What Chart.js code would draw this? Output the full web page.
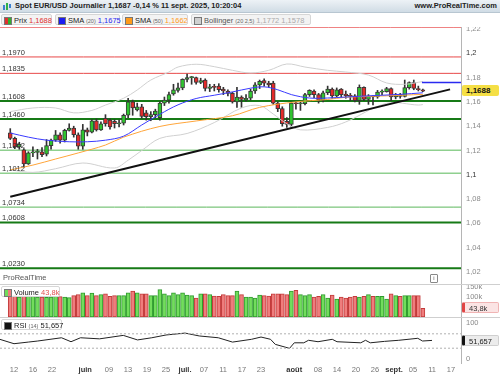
<!DOCTYPE html>
<html lang="fr">
<head>
<meta charset="UTF-8">
<title>Spot EUR/USD Journalier</title>
<script src="https://cdn.jsdelivr.net/npm/chart.js@4.4.0/dist/chart.umd.min.js"></script>
<style>
  body { margin:0; width:500px; height:375px; position:relative; overflow:hidden; background:#fff;
         font-family:"Liberation Sans", Arial, sans-serif; color:#222; }
  .abs { position:absolute; }
  #titlebar { left:0; top:0; width:500px; height:12px; background:linear-gradient(#edf2f6,#d0dce5);
              border-bottom:1px solid #b8c6d1; }
  #ttl { position:absolute; left:15px; top:1px; font-size:7.5px; font-weight:bold; white-space:nowrap; }
  #site { position:absolute; right:3px; top:1px; font-size:7.5px; font-weight:bold; }
  .ico { position:absolute; top:2px; width:2px; background:#3a7fd0; }
  .leg { position:absolute; top:14px; height:11px; background:#f3f3f3; border:1px solid #d6d6d6;
         border-radius:2px; font-size:7.5px; line-height:11px; white-space:nowrap; padding-left:12px; box-sizing:border-box; }
  .leg i { position:absolute; left:2px; top:2px; width:6px; height:6px; border:0.5px solid #777; }
  .leg small { font-size:5.5px; color:#666; }
  .tag { position:absolute; left:462px; width:37px; height:11px; font-size:7.5px; line-height:11px;
         box-sizing:border-box; padding-left:4px; border-radius:2px; }
  .pane { position:absolute; left:0; width:500px; }
  canvas { display:block; }
</style>
</head>
<body>
<div id="titlebar" class="abs">
  <span class="ico" style="left:3px;height:5px;top:5px"></span>
  <span class="ico" style="left:6px;height:7px;top:3px;background:#2fb04a"></span>
  <span class="ico" style="left:9px;height:4px;top:4px"></span>
  <span id="ttl">Spot EUR/USD Journalier 1,1687 -0,14 % 11 sept. 2025, 10:20:04</span>
  <span id="site">www.ProRealTime.com</span>
</div>

<div class="leg" style="left:1px;width:51px"><i style="background:linear-gradient(90deg,#e03030 50%,#2fb02f 50%)"></i>Prix <span style="color:#e03030">1,1688</span></div>
<div class="leg" style="left:55px;width:65px"><i style="background:#1c1cf0"></i>SMA <small>(20)</small> <span style="color:#2a2af0">1,1675</span></div>
<div class="leg" style="left:122px;width:66px"><i style="background:#ff9a1a"></i>SMA <small>(50)</small> <span style="color:#ff9a1a">1,1662</span></div>
<div class="leg" style="left:191px;width:120px;color:#555"><i style="background:#d0d0d0"></i>Bollinger <small>(20 2,5)</small> <span style="color:#aaa">1,1772 1,1578</span></div>

<div class="pane" style="top:27px;height:257px"><canvas id="price" width="500" height="257"></canvas></div>
<div class="abs" style="left:3px;top:273px;font-size:7.5px;color:#555">ProRealTime</div>
<div class="abs" style="left:430px;top:274px;width:6px;height:7px;border:1px solid #888;border-radius:1px;font-size:6px;line-height:7px;text-align:center;color:#555">i</div>
<div class="tag" style="top:85px;background:#f5df45;font-weight:bold;color:#111;font-size:8px">1,1688</div>

<div class="pane" style="top:284px;height:32px;border-top:1px solid #cfcfcf"><canvas id="vol" width="500" height="32"></canvas></div>
<div class="leg" style="top:286px;left:1px;width:59px;background:rgba(255,255,255,0.9)"><i style="background:linear-gradient(90deg,#6fdc5a 50%,#ef7b7b 50%)"></i>Volume <span style="color:#e05050">43,8k</span></div>
<div class="tag" style="top:302px;background:#fbe4e4;border:1px solid #f0b4b4;border-left:3px solid #e04545;color:#333">43,8k</div>

<div class="pane" style="top:317px;height:58px;border-top:1px solid #cfcfcf"><canvas id="rsi" width="500" height="58"></canvas></div>
<div class="leg" style="top:319px;left:1px;width:61px;background:rgba(255,255,255,0.9)"><i style="background:#111"></i>RSI <small>(14)</small> 51,657</div>
<div class="tag" style="top:335px;background:#ececec;border:1px solid #cfcfcf;border-left:3px solid #111;color:#222">51,657</div>

<script>
// trading days (dd/mm), 7 May -> 19 Sep 2025
const days = [
  '07/05','08/05','09/05','12/05','13/05','14/05','15/05','16/05','19/05','20/05','21/05','22/05','23/05',
  '26/05','27/05','28/05','29/05','30/05','02/06','03/06','04/06','05/06','06/06','09/06','10/06','11/06',
  '12/06','13/06','16/06','17/06','18/06','19/06','20/06','23/06','24/06','25/06','26/06','27/06','30/06',
  '01/07','02/07','03/07','04/07','07/07','08/07','09/07','10/07','11/07','14/07','15/07','16/07','17/07',
  '18/07','21/07','22/07','23/07','24/07','25/07','28/07','29/07','30/07','31/07','01/08','04/08','05/08',
  '06/08','07/08','08/08','11/08','12/08','13/08','14/08','15/08','18/08','19/08','20/08','21/08','22/08',
  '25/08','26/08','27/08','28/08','29/08','01/09','02/09','03/09','04/09','05/09','08/09','09/09','10/09',
  '11/09','12/09','15/09','16/09','17/09','18/09','19/09'
];
const tickDays = ['12/05','16/05','22/05','02/06','09/06','13/06','19/06','25/06','01/07','07/07','11/07',
  '17/07','23/07','01/08','08/08','14/08','20/08','26/08','01/09','05/09','11/09','17/09'];
const tickLabels = ['12','16','22','juin','09','13','19','25','juil.','07','11','17','23','août','08','14',
  '20','26','sept.','05','11','17'];
const monthLabels = ['juin','juil.','août','sept.'];

// daily candles, 07/05 -> 11/09
const open = [
  1.1345,1.1300,1.1230,1.1205,1.1090,1.1180,1.1185,1.1190,1.1170,1.1240,1.1285,1.1330,1.1285,
  1.1365,1.1385,1.1330,1.1235,1.1370,1.1350,1.1445,1.1370,1.1465,1.1450,1.1440,1.1420,1.1425,
  1.1490,1.1600,1.1535,1.1560,1.1510,1.1478,1.1495,1.1470,1.1590,1.1615,1.1665,1.1695,1.1715,
  1.1785,1.1800,1.1800,1.1760,1.1780,1.1710,1.1725,1.1730,1.1705,1.1690,1.1670,1.1600,1.1640,
  1.1615,1.1630,1.1690,1.1740,1.1775,1.1755,1.1755,1.1590,1.1545,1.1440,1.1415,1.1590,1.1585,
  1.1585,1.1660,1.1690,1.1660,1.1615,1.1675,1.1705,1.1650,1.1705,1.1665,1.1650,1.1650,1.1610,
  1.1720,1.1620,1.1645,1.1640,1.1680,1.1685,1.1710,1.1640,1.1660,1.1645,1.1718,1.1760,1.1710,
  1.1700
];
const high = [
  1.1380,1.1310,1.1268,1.1215,1.1190,1.1230,1.1210,1.1225,1.1290,1.1295,1.1365,1.1345,1.1375,
  1.1420,1.1400,1.1345,1.1415,1.1385,1.1455,1.1460,1.1435,1.1495,1.1460,1.1455,1.1450,1.1500,
  1.1630,1.1615,1.1590,1.1580,1.1530,1.1520,1.1540,1.1600,1.1640,1.1680,1.1745,1.1755,1.1790,
  1.1830,1.1810,1.1805,1.1795,1.1790,1.1745,1.1745,1.1750,1.1720,1.1700,1.1680,1.1720,1.1650,
  1.1660,1.1705,1.1760,1.1780,1.1790,1.1770,1.1770,1.1600,1.1560,1.1470,1.1600,1.1600,1.1600,
  1.1670,1.1700,1.1700,1.1670,1.1690,1.1730,1.1715,1.1715,1.1710,1.1690,1.1670,1.1660,1.1740,
  1.1725,1.1660,1.1650,1.1695,1.1700,1.1720,1.1715,1.1670,1.1670,1.1780,1.1765,1.1780,1.1730,
  1.1705
];
const low = [
  1.1290,1.1215,1.1210,1.1065,1.1085,1.1150,1.1130,1.1150,1.1155,1.1210,1.1275,1.1260,1.1270,
  1.1360,1.1310,1.1210,1.1210,1.1320,1.1345,1.1360,1.1365,1.1400,1.1375,1.1385,1.1395,1.1410,
  1.1470,1.1490,1.1525,1.1465,1.1450,1.1445,1.1470,1.1450,1.1570,1.1590,1.1655,1.1680,1.1700,
  1.1765,1.1745,1.1745,1.1750,1.1690,1.1685,1.1690,1.1680,1.1660,1.1650,1.1590,1.1555,1.1555,
  1.1605,1.1615,1.1670,1.1710,1.1730,1.1720,1.1580,1.1520,1.1400,1.1390,1.1390,1.1540,1.1530,
  1.1575,1.1645,1.1635,1.1590,1.1600,1.1660,1.1630,1.1640,1.1640,1.1630,1.1610,1.1600,1.1580,
  1.1610,1.1580,1.1575,1.1630,1.1660,1.1680,1.1610,1.1625,1.1630,1.1640,1.1705,1.1700,1.1690,
  1.1685
];
const close = [
  1.1300,1.1230,1.1250,1.1090,1.1180,1.1185,1.1188,1.1165,1.1240,1.1285,1.1330,1.1285,1.1365,
  1.1385,1.1330,1.1235,1.1370,1.1350,1.1445,1.1370,1.1420,1.1420,1.1395,1.1420,1.1425,1.1490,
  1.1600,1.1550,1.1560,1.1480,1.1478,1.1495,1.1525,1.1590,1.1615,1.1660,1.1700,1.1715,1.1785,
  1.1800,1.1800,1.1760,1.1775,1.1710,1.1725,1.1720,1.1700,1.1690,1.1670,1.1600,1.1640,1.1620,
  1.1630,1.1690,1.1740,1.1770,1.1755,1.1740,1.1590,1.1545,1.1420,1.1415,1.1590,1.1585,1.1590,
  1.1660,1.1695,1.1660,1.1615,1.1675,1.1705,1.1650,1.1700,1.1660,1.1650,1.1645,1.1610,1.1720,
  1.1620,1.1645,1.1640,1.1680,1.1685,1.1710,1.1640,1.1660,1.1645,1.1718,1.1760,1.1710,1.1700,
  1.1688
];
// volume in thousands
const volume = [
  105,110,100,125,115,105,100,100,98,100,105,102,100,
  97,107,112,121,107,119,107,112,116,103,107,107,107,
  121,129,121,116,116,107,107,137,116,107,121,112,121,
  110,107,95,116,116,112,104,103,112,107,107,129,112,
  99,99,95,110,107,104,116,116,116,112,129,133,112,
  107,112,99,103,112,95,110,90,99,95,99,103,99,
  103,112,103,103,103,90,116,107,103,107,107,107,107,
  43.8
];

// indicator readings (day index -> value)
const sma20Day = [0, 4, 8, 13, 17, 21, 25, 29, 33, 37, 41, 45, 49, 53, 56, 59, 62, 66, 70, 74, 78, 82, 86, 91];
const sma20 = [1.1344,1.1310,1.1285,1.1272,1.1272,1.1285,1.1318,1.1410,1.1498,1.1576,1.1628,1.1655,
  1.1682,1.1713,1.1724,1.1700,1.1660,1.1632,1.1632,1.1640,1.1648,1.1655,1.1662,1.1675];
const sma50Day = [0, 5, 10, 15, 21, 25, 33, 41, 49, 55, 63, 70, 74, 83, 91];
const sma50 = [1.1040,1.1080,1.1130,1.1180,1.1245,1.1310,1.1398,1.1443,1.1486,1.1555,1.1600,1.1620,
  1.1638,1.1650,1.1662];
const bollUpDay = [0, 5, 10, 14, 18, 21, 25, 28, 31, 35, 37, 41, 45, 49, 53, 57, 61, 65, 70, 74, 79, 83, 87, 91];
const bollUp = [1.152,1.155,1.155,1.151,1.153,1.1574,1.163,1.1698,1.178,1.1846,1.1887,1.191,1.189,1.186,
  1.1838,1.186,1.1912,1.1887,1.186,1.1846,1.1821,1.1756,1.1745,1.1768];
const bollLoDay = [0, 5, 10, 16, 23, 26, 29, 33, 39, 45, 51, 55, 58, 61, 64, 70, 74, 83, 90, 91];
const bollLo = [1.104,1.102,1.105,1.1097,1.1056,1.112,1.120,1.130,1.134,1.143,1.155,1.157,1.150,1.142,
  1.137,1.139,1.1435,1.1588,1.1574,1.1578];
const rsiDay = [0,3,6,8,13,15,17,21,26,29,32,35,39,42,46,49,53,55,57,58,61,62,64,65,67,70,71,76,77,78,81,84,88,89,91];
const rsi = [54.7,42.5,47,50,59,48,59,56,65.6,53,59,66.7,72,64,59,47,54.7,61,54.7,40.7,29.6,45,45,52,48,
  54.7,48,45,52,45,49,52,57.5,50,51.66];
const rsiBands = [30, 70];

// drawn levels
const levels = [1.2215, 1.1970, 1.1835, 1.1608, 1.1460, 1.1202, 1.1012, 1.0734, 1.0608, 1.0230];
const levelLabels = ['', '1,1970', '1,1835', '1,1608', '1,1460', '1,1202', '1,1012', '1,0734', '1,0608', '1,0230'];
const levelKind = ['res', 'res', 'res', 'sup', 'sup', 'weak', 'weak', 'mid', 'sup', 'sup'];
const trendDay = [0, 97];
const trendVal = [1.0820, 1.1703];
const bollLast = 1.1760;

const priceTicks = [1.02, 1.04, 1.06, 1.08, 1.1, 1.12, 1.14, 1.16, 1.18, 1.2, 1.22];
const volTicks = [100, 150];
const rsiTicks = [0, 100];

// ---- styles / layout
const X_MIN = 0.05, X_MAX = 97.1;
const FONT = '"Liberation Sans", Arial, sans-serif';
const kindStyle = {
  res:  { color: '#e84848', width: 1 },
  sup:  { color: '#167a16', width: 2 },
  weak: { color: '#8fd08f', width: 1.5 },
  mid:  { color: '#5cb85c', width: 1 }
};
Chart.defaults.font.family = FONT;
Chart.defaults.animation = false;

const fmtNum = v => String(Number(v.toFixed(2))).replace('.', ',');
const pts = (xs, ys) => xs.map((x, i) => ({ x: x, y: ys[i] }));

function xAxis(show) {
  return {
    type: 'linear', min: X_MIN, max: X_MAX, display: show,
    grid: { display: false, drawTicks: false }, border: { display: false },
    afterBuildTicks: s => { s.ticks = tickDays.map(d => ({ value: days.indexOf(d) })); },
    afterFit: s => { s.height = show ? 13 : 0; s.paddingLeft = 0; s.paddingRight = 0; },
    ticks: {
      autoSkip: false, maxRotation: 0, padding: 2,
      callback: (v, i) => tickLabels[i],
      font: c => ({ size: 7.5, weight: monthLabels.includes(tickLabels[c.index]) ? 'bold' : 'normal' }),
      color: c => monthLabels.includes(tickLabels[c.index]) ? '#333' : '#777'
    }
  };
}
function yAxis(min, max, ticks, fmt, color) {
  return {
    position: 'right', min: min, max: max,
    grid: { display: false, drawTicks: false },
    border: { display: true, color: '#b5b5b5' },
    afterBuildTicks: s => { s.ticks = ticks.map(v => ({ value: v })); },
    afterFit: s => { s.width = 39; s.paddingTop = 0; s.paddingBottom = 0; },
    ticks: { padding: 5, font: { size: 7.5 }, color: color, callback: fmt }
  };
}
const baseOpts = {
  responsive: false, events: [],
  layout: { padding: 0 },
  plugins: { legend: { display: false }, tooltip: { enabled: false } }
};

const levelLabelPlugin = {
  id: 'levelLabels',
  afterDatasetsDraw(chart) {
    const y = chart.scales.y, c = chart.ctx;
    c.save();
    c.font = '7.5px ' + FONT;
    c.fillStyle = '#333';
    levels.forEach((v, i) => {
      if (levelLabels[i]) c.fillText(levelLabels[i], 2, y.getPixelForValue(v) - 2);
    });
    c.restore();
  }
};

const upColor = '#2fc52f', downColor = '#e42a2a';
const candleIdx = close.map((_, i) => i);

const lineDs = (data, color, width, order) => ({
  type: 'line', data: data, borderColor: color, borderWidth: width, pointRadius: 0,
  tension: 0.35, fill: false, order: order
});

const priceSets = [];
levels.forEach((v, i) => {
  const st = kindStyle[levelKind[i]];
  priceSets.push(lineDs([{ x: -5, y: v }, { x: 105, y: v }], st.color, st.width, 10));
});
priceSets.push(lineDs(pts(trendDay, trendVal), '#111', 2, 1));
priceSets.push(lineDs(pts(bollUpDay, bollUp), '#d0d0d0', 1, 6));
priceSets.push(lineDs(pts(bollLoDay, bollLo), '#d0d0d0', 1, 6));
priceSets.push(lineDs(pts(sma50Day, sma50), '#ffa53a', 1, 3));
priceSets.push(lineDs(pts(sma20Day, sma20), '#3a3aff', 1, 2));
priceSets.push(lineDs([{ x: 90.8, y: bollLast }, { x: 105, y: bollLast }], '#2a2af0', 1.5, 2));
priceSets.push({
  type: 'bar', grouped: false, order: 8, barThickness: 1,
  backgroundColor: '#333',
  data: candleIdx.map(i => ({ x: i, y: [low[i], high[i]] }))
});
priceSets.push({
  type: 'bar', grouped: false, order: 7, barThickness: 4, minBarLength: 1,
  borderWidth: 1, borderSkipped: false, borderColor: '#3a3a3a',
  backgroundColor: candleIdx.map(i => close[i] >= open[i] ? upColor : downColor),
  data: candleIdx.map(i => ({ x: i, y: [open[i], close[i]] }))
});

new Chart(document.getElementById('price'), {
  type: 'bar',
  data: { datasets: priceSets },
  options: Object.assign({}, baseOpts, {
    scales: {
      x: xAxis(false),
      y: yAxis(1.01012, 1.22165, priceTicks, v => fmtNum(v),
        c => (c.tick && (c.tick.value === 1.2 || c.tick.value === 1.1)) ? '#333' : '#8a8a8a')
    }
  }),
  plugins: [levelLabelPlugin]
});

new Chart(document.getElementById('vol'), {
  type: 'bar',
  data: {
    datasets: [{
      grouped: false, barThickness: 4, borderWidth: 1, borderSkipped: false,
      backgroundColor: candleIdx.map(i => close[i] >= open[i] ? '#72dd5c' : '#ef7d7d'),
      borderColor: candleIdx.map(i => close[i] >= open[i] ? '#2f9a2f' : '#c23b3b'),
      data: candleIdx.map(i => ({ x: i, y: volume[i] }))
    }]
  },
  options: Object.assign({}, baseOpts, {
    scales: { x: xAxis(false), y: yAxis(0, 160, volTicks, v => v + 'k', '#8a8a8a') }
  })
});

const rsiSets = rsiBands.map(v => ({
  type: 'line', data: [{ x: -5, y: v }, { x: 105, y: v }], borderColor: '#b0b0b0',
  borderWidth: 1, borderDash: [2, 2], pointRadius: 0
}));
rsiSets.push({
  type: 'line', data: pts(rsiDay, rsi), borderColor: '#222', borderWidth: 1, pointRadius: 0, tension: 0
});
new Chart(document.getElementById('rsi'), {
  type: 'line',
  data: { datasets: rsiSets },
  options: Object.assign({}, baseOpts, {
    scales: { x: xAxis(true), y: yAxis(-11.1, 113.9, rsiTicks, v => String(v), '#8a8a8a') }
  })
});
</script>
</body>
</html>
